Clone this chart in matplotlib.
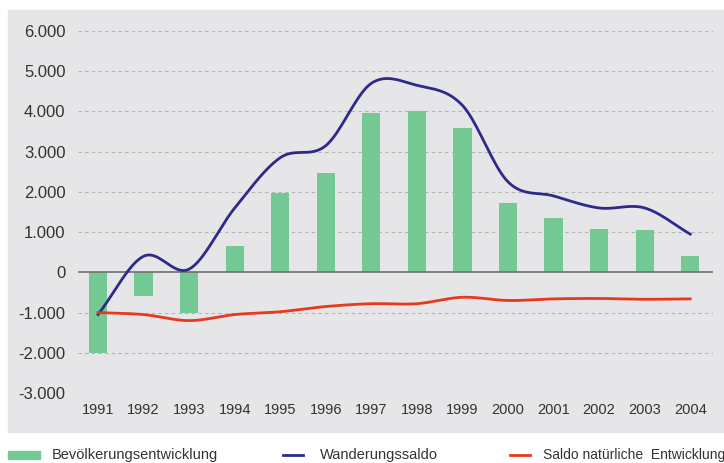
import numpy as np
import matplotlib.pyplot as plt
from matplotlib.patches import Rectangle
from matplotlib.lines import Line2D

plt.rcParams['font.family'] = ['Liberation Sans', 'DejaVu Sans']

jahre = ['1991', '1992', '1993', '1994', '1995', '1996', '1997',
         '1998', '1999', '2000', '2001', '2002', '2003', '2004']
bevoelkerung = [-2000, -600, -1000, 650, 1980, 2480, 3950,
                4000, 3600, 1720, 1350, 1070, 1050, 400]
wanderung = [-1050, 400, 80, 1600, 2850, 3150, 4700,
             4650, 4150, 2250, 1900, 1600, 1600, 950]
natuerlich = [-1000, -1050, -1200, -1050, -980, -850, -780,
              -780, -620, -700, -660, -650, -670, -660]
y_ticks = [6000, 5000, 4000, 3000, 2000, 1000, 0, -1000, -2000, -3000]
y_labels = ['6.000', '5.000', '4.000', '3.000', '2.000', '1.000', '0',
            '-1.000', '-2.000', '-3.000']


def glatt(y, n=20):
    # Catmull-Rom Kurve durch die Jahreswerte
    y = np.asarray(y, float)
    p = np.concatenate([[2 * y[0] - y[1]], y, [2 * y[-1] - y[-2]]])
    xs, ys = [], []
    for i in range(len(y) - 1):
        p0, p1, p2, p3 = p[i], p[i + 1], p[i + 2], p[i + 3]
        t = np.linspace(0, 1, n, endpoint=False)
        v = 0.5 * ((2 * p1) + (-p0 + p2) * t + (2 * p0 - 5 * p1 + 4 * p2 - p3) * t ** 2
                   + (-p0 + 3 * p1 - 3 * p2 + p3) * t ** 3)
        xs.extend(i + t)
        ys.extend(v)
    xs.append(len(y) - 1)
    ys.append(y[-1])
    return np.array(xs), np.array(ys)


fig = plt.figure(figsize=(7.24, 4.63), dpi=100)
fig.patches.append(Rectangle((8 / 724, 1 - 432 / 463), 1, 422 / 463,
                             transform=fig.transFigure, color='#e6e6e8', zorder=-5))

ax = fig.add_axes([78 / 724, 1 - 393 / 463, 635 / 724, 362 / 463])
ax.set_facecolor('none')
x = np.arange(len(jahre))

ax.bar(x, bevoelkerung, width=0.4, color='#74c995', zorder=2)
gx, gy = glatt(wanderung)
ax.plot(gx, gy, color='#2e2a8a', lw=2, zorder=3)
rx, ry = glatt(natuerlich)
ax.plot(rx, ry, color='#e8391e', lw=2, zorder=3)

ax.axhline(0, color='#707070', lw=1.2, zorder=2)
for t in y_ticks:
    if t != 0:
        ax.axhline(t, color='#b4b4b4', lw=0.8, ls=(0, (3, 3)), zorder=1)

ax.set_ylim(-3000, 6000)
ax.set_xlim(-0.44, 13.5)
ax.set_yticks(y_ticks)
ax.set_yticklabels(y_labels, fontsize=12, color='#333333')
ax.set_xticks(x)
ax.set_xticklabels(jahre, fontsize=10.5, color='#333333')
ax.tick_params(axis='y', length=0, pad=9)
ax.tick_params(axis='x', length=0, pad=7)
for s in ax.spines.values():
    s.set_visible(False)

# Legende unten
fig.patches.append(Rectangle((8 / 724, 1 - 459 / 463), 32 / 724, 8 / 463,
                             transform=fig.transFigure, color='#74c995'))
fig.text(52 / 724, 1 - 455 / 463, 'Bevölkerungsentwicklung', fontsize=10.5,
         va='center', color='#333333')
fig.lines.append(Line2D([283 / 724, 303 / 724], [1 - 455 / 463] * 2,
                        transform=fig.transFigure, color='#2e2a8a', lw=2))
fig.text(320 / 724, 1 - 455 / 463, 'Wanderungssaldo', fontsize=10.5,
         va='center', color='#333333')
fig.lines.append(Line2D([510 / 724, 530 / 724], [1 - 455 / 463] * 2,
                        transform=fig.transFigure, color='#e8391e', lw=2))
fig.text(543 / 724, 1 - 455 / 463, 'Saldo natürliche  Entwicklung', fontsize=10,
         va='center', color='#333333')

fig.savefig('out.png', dpi=100)
